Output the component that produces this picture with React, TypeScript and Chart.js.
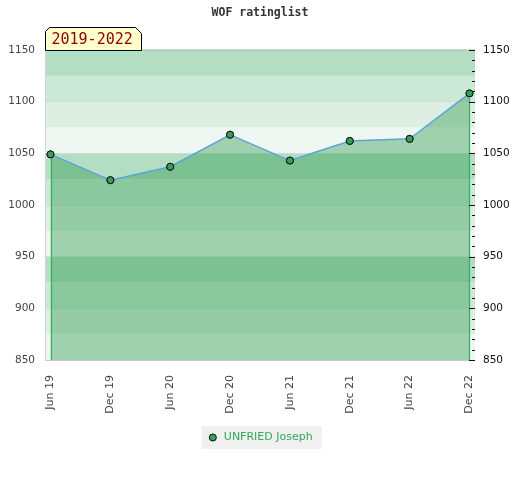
import React, { useEffect, useRef } from "react";
import { Chart, registerables } from "chart.js";

Chart.register(...registerables);

const titleText = "WOF ratinglist";
const periodLabel = "2019-2022";
const seriesName = "UNFRIED Joseph";
const categories = ["Jun 19", "Dec 19", "Jun 20", "Dec 20", "Jun 21", "Dec 21", "Jun 22", "Dec 22"];
const ratings = [1049, 1024, 1037, 1068, 1043, 1062, 1064, 1108];
const yTicks = [850, 900, 950, 1000, 1050, 1100, 1150];
const minorStep = 10;
const bandStep = 25;
// band colours from lowest to highest within each 100-point block
const bandColors = ["#eef7f1", "#ddefe3", "#cce8d6", "#b4dec4"];

const Y_MIN = yTicks[0];
const Y_MAX = yTicks[yTicks.length - 1];

const bandsPlugin = {
  id: "bands",
  beforeDraw(chart: any) {
    const { ctx, chartArea } = chart;
    const y = chart.scales.y;
    ctx.save();
    let i = 0;
    for (let v = Y_MIN; v < Y_MAX; v += bandStep, i++) {
      const top = y.getPixelForValue(v + bandStep);
      const bot = y.getPixelForValue(v);
      ctx.fillStyle = bandColors[i % bandColors.length];
      ctx.fillRect(chartArea.left, top, chartArea.right - chartArea.left, bot - top);
    }
    ctx.strokeStyle = "#d4d4d4";
    ctx.lineWidth = 1;
    ctx.beginPath();
    ctx.moveTo(chartArea.right, Math.round(chartArea.top) - 0.5);
    ctx.lineTo(Math.round(chartArea.left) + 0.5, Math.round(chartArea.top) - 0.5);
    ctx.lineTo(Math.round(chartArea.left) + 0.5, Math.round(chartArea.bottom) + 0.5);
    ctx.lineTo(chartArea.right, Math.round(chartArea.bottom) + 0.5);
    ctx.stroke();
    // legend background
    const lg = chart.legend;
    if (lg && lg.legendHitBoxes && lg.legendHitBoxes.length) {
      const h = lg.legendHitBoxes[0];
      ctx.fillStyle = "#f0f0f0";
      ctx.fillRect(h.left - 6, h.top - 6, h.width + 15, h.height + 12);
    }
    ctx.restore();
  },
  afterDatasetsDraw(chart: any) {
    const { ctx, chartArea } = chart;
    const meta = chart.getDatasetMeta(0);
    const pts = meta.data;
    if (!pts.length) return;
    ctx.save();
    ctx.strokeStyle = "#33b05a";
    ctx.lineWidth = 1.2;
    [pts[0], pts[pts.length - 1]].forEach((p: any) => {
      ctx.beginPath();
      ctx.moveTo(Math.round(p.x) + 0.5, p.y + 4);
      ctx.lineTo(Math.round(p.x) + 0.5, chartArea.bottom);
      ctx.stroke();
    });
    // redraw points on top
    pts.forEach((p: any) => p.draw(ctx, chartArea));
    // right-axis small ticks inside the plot
    const y2 = chart.scales.y2;
    ctx.strokeStyle = "#111";
    ctx.lineWidth = 1;
    for (let v = Y_MIN; v <= Y_MAX; v += minorStep) {
      const py = Math.round(y2.getPixelForValue(v)) + 0.5;
      const len = v % 50 === 0 ? 6 : 3;
      ctx.beginPath();
      ctx.moveTo(chartArea.right - len, py);
      ctx.lineTo(chartArea.right, py);
      ctx.stroke();
    }
    ctx.restore();
  },
  afterDraw(chart: any) {
    const { ctx, chartArea } = chart;
    const x0 = Math.round(chartArea.left) + 0.5;
    const x1 = x0 + 96;
    const yb = Math.round(chartArea.top) + 0.5;
    const yt = yb - 23;
    ctx.save();
    ctx.beginPath();
    ctx.moveTo(x0, yb);
    ctx.lineTo(x0, yt + 4);
    ctx.lineTo(x0 + 4, yt);
    ctx.lineTo(x1 - 6, yt);
    ctx.lineTo(x1, yt + 6);
    ctx.lineTo(x1, yb);
    ctx.closePath();
    ctx.fillStyle = "#ffffcc";
    ctx.fill();
    ctx.strokeStyle = "#000";
    ctx.lineWidth = 1;
    ctx.stroke();
    ctx.fillStyle = "#8b0000";
    ctx.font = "15px 'DejaVu Sans Mono'";
    ctx.textBaseline = "middle";
    ctx.textAlign = "left";
    ctx.fillText(periodLabel, x0 + 6, yt + 12.5);
    ctx.restore();
  },
};

export default function App() {
  const ref = useRef<HTMLCanvasElement | null>(null);
  useEffect(() => {
    if (!ref.current) return;
    Chart.defaults.font.family = "'DejaVu Sans'";
    const chart = new Chart(ref.current, {
      type: "line",
      data: {
        datasets: [
          {
            label: seriesName,
            data: ratings.map((v, i) => ({ x: i, y: v })),
            borderColor: "#5ea3dc",
            borderWidth: 1.5,
            backgroundColor: "rgba(31,147,67,0.38)",
            fill: "start",
            tension: 0,
            pointRadius: 3.5,
            pointBackgroundColor: "#35a05c",
            pointBorderColor: "#111",
            pointBorderWidth: 1,
          },
        ],
      },
      options: {
        animation: false,
        responsive: false,
        layout: { padding: { left: 0, right: 0, top: 0, bottom: 27 } },
        plugins: {
          title: {
            display: true,
            text: titleText,
            color: "#333",
            font: { family: "'DejaVu Sans Mono'", size: 11.5, weight: "bold" },
            padding: { top: 6, bottom: 30.2 },
          },
          legend: {
            display: true,
            position: "bottom",
            labels: {
              color: "#33a85a",
              font: { size: 11 },
              usePointStyle: true,
              pointStyle: "circle",
              boxHeight: 5,
              padding: 10,
              generateLabels: () => [
                {
                  text: seriesName,
                  fillStyle: "#35a05c",
                  strokeStyle: "#111",
                  lineWidth: 1,
                  pointStyle: "circle",
                  fontColor: "#33a85a",
                  datasetIndex: 0,
                  hidden: false,
                },
              ],
            },
          },
          tooltip: { enabled: false },
        },
        scales: {
          x: {
            type: "linear",
            min: -0.092,
            max: categories.length - 1 + 0.092,
            grid: { display: false },
            border: { display: false },
            afterBuildTicks: (scale: any) => {
              scale.ticks = categories.map((_, i) => ({ value: i }));
            },
            afterFit: (scale: any) => {
              scale.height = 62;
            },
            ticks: {
              autoSkip: false,
              minRotation: 90,
              maxRotation: 90,
              padding: 7,
              color: "#444",
              font: { size: 11 },
              callback: (v: any) => categories[v] ?? "",
            },
          },
          y: {
            position: "left",
            min: Y_MIN,
            max: Y_MAX,
            grid: { color: "rgba(0,0,0,0.06)", drawTicks: false },
            border: { display: false },
            afterBuildTicks: (scale: any) => {
              scale.ticks = yTicks.map((v) => ({ value: v }));
            },
            afterFit: (scale: any) => {
              scale.width = 45;
            },
            ticks: { padding: 10, color: "#444", font: { size: 10.5 }, callback: (v: any) => String(v) },
          },
          y2: {
            position: "right",
            min: Y_MIN,
            max: Y_MAX,
            grid: { display: false, drawTicks: false },
            border: { display: false },
            afterBuildTicks: (scale: any) => {
              scale.ticks = yTicks.map((v) => ({ value: v }));
            },
            afterFit: (scale: any) => {
              scale.width = 45;
            },
            ticks: { padding: 8, color: "#111", font: { size: 10.5 }, callback: (v: any) => String(v) },
          },
        },
      },
      plugins: [bandsPlugin],
    });
    return () => chart.destroy();
  }, []);
  return (
    <div style={{ position: "absolute", left: 0, top: 0, width: 520, height: 480, background: "#fff" }}>
      <canvas ref={ref} width={520} height={480} />
    </div>
  );
}
